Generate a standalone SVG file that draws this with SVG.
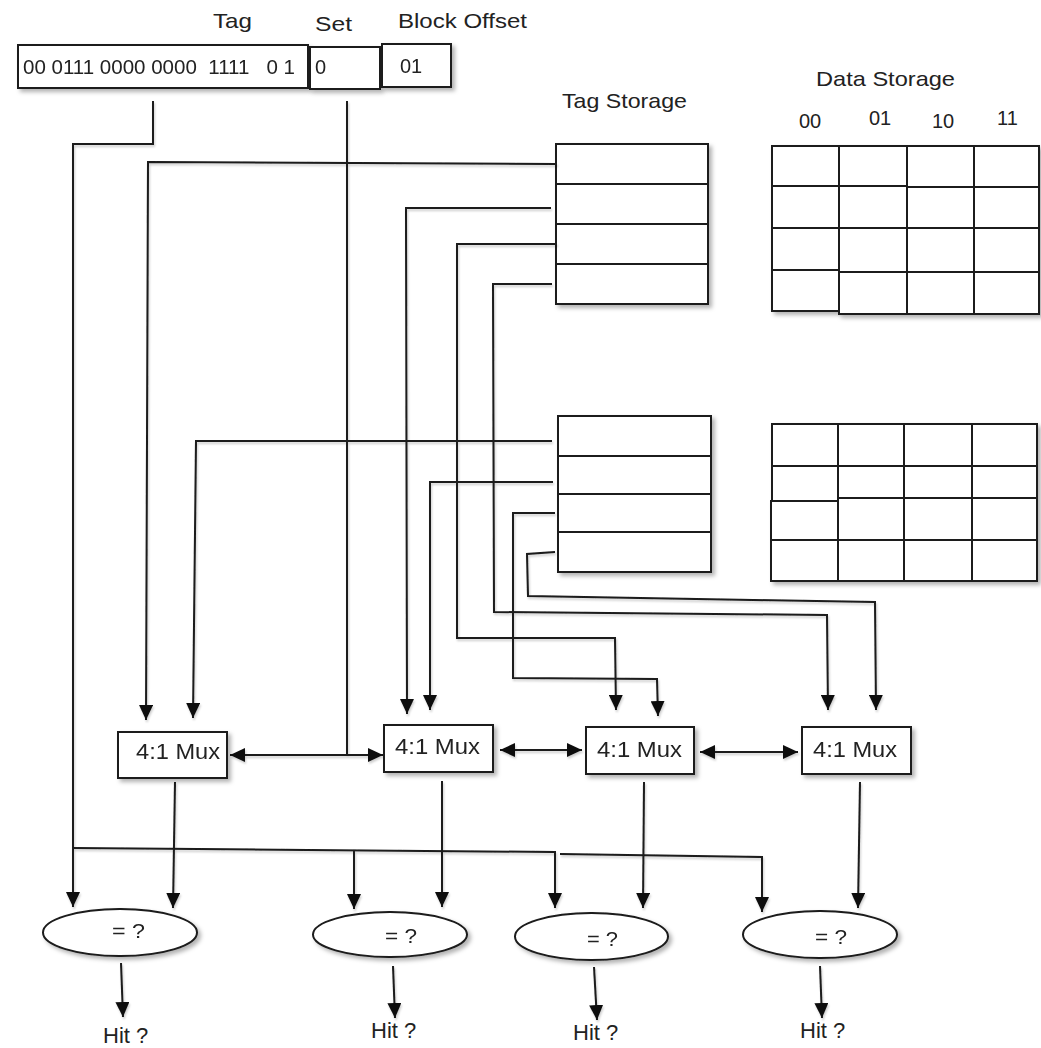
<svg xmlns="http://www.w3.org/2000/svg" width="1041" height="1048" viewBox="0 0 1041 1048">
  <defs>
    <filter id="sh" x="-10%" y="-10%" width="130%" height="140%">
      <feDropShadow dx="3" dy="3" stdDeviation="2" flood-color="#000" flood-opacity="0.3"/>
    </filter>
    <filter id="lsh" x="-5%" y="-5%" width="110%" height="110%">
      <feDropShadow dx="1" dy="2" stdDeviation="1" flood-color="#000" flood-opacity="0.2"/>
    </filter>
    <marker id="arrow" viewBox="0 0 15 14" markerWidth="15" markerHeight="14" refX="15" refY="7" orient="auto-start-reverse" markerUnits="userSpaceOnUse">
      <path d="M0,0 L15,7 L0,14 z" fill="#111"/>
    </marker>
  </defs>
  <style>
    .box{fill:#fff;stroke:#1a1a1a;stroke-width:2}
    .row{fill:none;stroke:#1a1a1a;stroke-width:2}
    .wire{fill:none;stroke:#1a1a1a;stroke-width:2}
    .arr{marker-end:url(#arrow)}
    .bi{marker-start:url(#arrow);marker-end:url(#arrow)}
    text{font-family:"Liberation Sans",Arial,Helvetica,sans-serif;fill:#222}
    .lbl{font-size:21px}
    .bits{font-size:20px;white-space:pre}
    .mux{font-size:22px}
    .eq{font-size:20px}
    .hit{font-size:22px}
  </style>
  <rect width="1041" height="1048" fill="#fff"/>

  <!-- field labels -->
  <g id="labels">
    <text class="lbl" x="213" y="28" textLength="39" lengthAdjust="spacingAndGlyphs">Tag</text>
    <text class="lbl" x="315" y="31" textLength="37" lengthAdjust="spacingAndGlyphs">Set</text>
    <text class="lbl" x="398" y="28" textLength="129" lengthAdjust="spacingAndGlyphs">Block Offset</text>
    <text class="lbl" x="562" y="108" textLength="125" lengthAdjust="spacingAndGlyphs">Tag Storage</text>
    <text class="lbl" x="816" y="86" textLength="139" lengthAdjust="spacingAndGlyphs">Data Storage</text>
    <text class="bits" x="799" y="128">00</text>
    <text class="bits" x="869" y="125">01</text>
    <text class="bits" x="932" y="128">10</text>
    <text class="bits" x="997" y="125">11</text>
  </g>

  <!-- address fields -->
  <g id="addr-tag" filter="url(#sh)">
    <rect class="box" x="18" y="45" width="290" height="43"/>
    <text class="bits" x="23" y="74" xml:space="preserve" textLength="272" lengthAdjust="spacingAndGlyphs">00 0111 0000 0000  1111   0 1</text>
  </g>
  <g id="addr-set" filter="url(#sh)">
    <rect class="box" x="310" y="47" width="70" height="42"/>
    <text class="bits" x="315" y="74">0</text>
  </g>
  <g id="addr-offset" filter="url(#sh)">
    <rect class="box" x="382" y="44" width="69" height="43"/>
    <text class="bits" x="400" y="73">01</text>
  </g>

  <!-- tag storage arrays -->
  <g id="tag-store-0" filter="url(#sh)">
    <rect class="box" x="556" y="144" width="152" height="160"/>
    <path class="row" d="M556,184 H708 M556,224 H708 M556,264 H708"/>
  </g>
  <g id="tag-store-1" filter="url(#sh)">
    <rect class="box" x="558" y="416" width="153" height="156"/>
    <path class="row" d="M558,456 H711 M558,494 H711 M558,532 H711"/>
  </g>

  <!-- data storage arrays -->
  <g id="data-store-0" filter="url(#sh)">
    <rect class="box" x="772" y="146" width="67" height="40"/>
    <rect class="box" x="772" y="186" width="67" height="42"/>
    <rect class="box" x="772" y="228" width="67" height="42"/>
    <rect class="box" x="772" y="270" width="67" height="41"/>
    <rect class="box" x="839" y="146" width="68" height="40"/>
    <rect class="box" x="839" y="186" width="68" height="42"/>
    <rect class="box" x="839" y="228" width="68" height="44"/>
    <rect class="box" x="839" y="272" width="68" height="42"/>
    <rect class="box" x="907" y="146" width="67" height="41"/>
    <rect class="box" x="907" y="187" width="67" height="41"/>
    <rect class="box" x="907" y="228" width="67" height="44"/>
    <rect class="box" x="907" y="272" width="67" height="42"/>
    <rect class="box" x="974" y="146" width="65" height="41"/>
    <rect class="box" x="974" y="187" width="65" height="41"/>
    <rect class="box" x="974" y="228" width="65" height="44"/>
    <rect class="box" x="974" y="272" width="65" height="42"/>
  </g>
  <g id="data-store-1" filter="url(#sh)">
    <rect class="box" x="772" y="424" width="66" height="42"/>
    <rect class="box" x="772" y="466" width="66" height="35"/>
    <rect class="box" x="771" y="501" width="67" height="39"/>
    <rect class="box" x="771" y="540" width="67" height="41"/>
    <rect class="box" x="838" y="424" width="66" height="42"/>
    <rect class="box" x="838" y="466" width="66" height="32"/>
    <rect class="box" x="838" y="498" width="66" height="42"/>
    <rect class="box" x="838" y="540" width="66" height="41"/>
    <rect class="box" x="904" y="424" width="68" height="42"/>
    <rect class="box" x="904" y="466" width="68" height="32"/>
    <rect class="box" x="904" y="498" width="68" height="42"/>
    <rect class="box" x="904" y="540" width="68" height="41"/>
    <rect class="box" x="972" y="424" width="65" height="42"/>
    <rect class="box" x="972" y="466" width="65" height="32"/>
    <rect class="box" x="972" y="498" width="65" height="42"/>
    <rect class="box" x="972" y="540" width="65" height="41"/>
  </g>

  <!-- connectors -->
  <g id="connectors" filter="url(#lsh)">
    <!-- tag bits to comparators -->
    <path class="wire" d="M153,101 L153,144 L73,144 L73,848"/>
    <path class="wire arr" d="M73,848 L73,907"/>
    <path class="wire arr" d="M73,848 L555,852 L555,908"/>
    <path class="wire arr" d="M354,850 L354,909"/>
    <path class="wire arr" d="M560,854 L762,857 L762,912"/>
    <!-- set index to mux selects -->
    <path class="wire" d="M347,101 L347,755"/>
    <path class="wire bi" d="M230,755 L383,755"/>
    <path class="wire bi" d="M500,750 L582,750"/>
    <path class="wire bi" d="M700,752 L798,752"/>
    <!-- way 0 tags to muxes -->
    <path class="wire arr" d="M557,164 L148,162 L146,720"/>
    <path class="wire arr" d="M551,208 L406,208 L407,714"/>
    <path class="wire arr" d="M557,244 L457,244 L457,638 L615,638 L616,710"/>
    <path class="wire arr" d="M552,284 L493,284 L494,612 L827,615 L828,710"/>
    <!-- way 1 tags to muxes -->
    <path class="wire arr" d="M552,441 L196,441 L193,718"/>
    <path class="wire arr" d="M553,482 L430,482 L430,710"/>
    <path class="wire arr" d="M555,513 L513,513 L513,678 L657,679 L658,716"/>
    <path class="wire arr" d="M555,552 L527,554 L528,596 L875,602 L876,710"/>
    <!-- mux outputs to comparators -->
    <path class="wire arr" d="M175,782 L173,908"/>
    <path class="wire arr" d="M442,781 L442,907"/>
    <path class="wire arr" d="M644,782 L643,908"/>
    <path class="wire arr" d="M860,782 L858,908"/>
    <!-- comparator results -->
    <path class="wire arr" d="M121,963 L123,1017"/>
    <path class="wire arr" d="M393,966 L395,1018"/>
    <path class="wire arr" d="M594,967 L597,1020"/>
    <path class="wire arr" d="M820,966 L822,1018"/>
  </g>

  <!-- multiplexers -->
  <g id="mux-0" filter="url(#sh)">
    <rect class="box" x="118" y="732" width="109" height="46"/>
    <text class="mux" x="136" y="759" textLength="84" lengthAdjust="spacingAndGlyphs">4:1 Mux</text>
  </g>
  <g id="mux-1" filter="url(#sh)">
    <rect class="box" x="384" y="725" width="109" height="47"/>
    <text class="mux" x="395" y="754" textLength="85" lengthAdjust="spacingAndGlyphs">4:1 Mux</text>
  </g>
  <g id="mux-2" filter="url(#sh)">
    <rect class="box" x="586" y="727" width="108" height="47"/>
    <text class="mux" x="597" y="757" textLength="85" lengthAdjust="spacingAndGlyphs">4:1 Mux</text>
  </g>
  <g id="mux-3" filter="url(#sh)">
    <rect class="box" x="802" y="727" width="109" height="47"/>
    <text class="mux" x="813" y="757" textLength="84" lengthAdjust="spacingAndGlyphs">4:1 Mux</text>
  </g>

  <!-- comparators -->
  <g id="cmp-0" filter="url(#sh)">
    <ellipse class="box" cx="120" cy="932.5" rx="77" ry="23.5"/>
    <text class="eq" x="112" y="938" textLength="33" lengthAdjust="spacingAndGlyphs">= ?</text>
  </g>
  <g id="cmp-1" filter="url(#sh)">
    <ellipse class="box" cx="390" cy="934.5" rx="77" ry="22.5"/>
    <text class="eq" x="385" y="943" textLength="32" lengthAdjust="spacingAndGlyphs">= ?</text>
  </g>
  <g id="cmp-2" filter="url(#sh)">
    <ellipse class="box" cx="591.5" cy="936.5" rx="76.5" ry="23.5"/>
    <text class="eq" x="587" y="946" textLength="31" lengthAdjust="spacingAndGlyphs">= ?</text>
  </g>
  <g id="cmp-3" filter="url(#sh)">
    <ellipse class="box" cx="820" cy="934.5" rx="77" ry="23.5"/>
    <text class="eq" x="815" y="944" textLength="32" lengthAdjust="spacingAndGlyphs">= ?</text>
  </g>

  <!-- hit outputs -->
  <g id="hit-0"><text class="hit" x="103" y="1043">Hit ?</text></g>
  <g id="hit-1"><text class="hit" x="371" y="1038">Hit ?</text></g>
  <g id="hit-2"><text class="hit" x="573" y="1040">Hit ?</text></g>
  <g id="hit-3"><text class="hit" x="800" y="1038">Hit ?</text></g>
</svg>
